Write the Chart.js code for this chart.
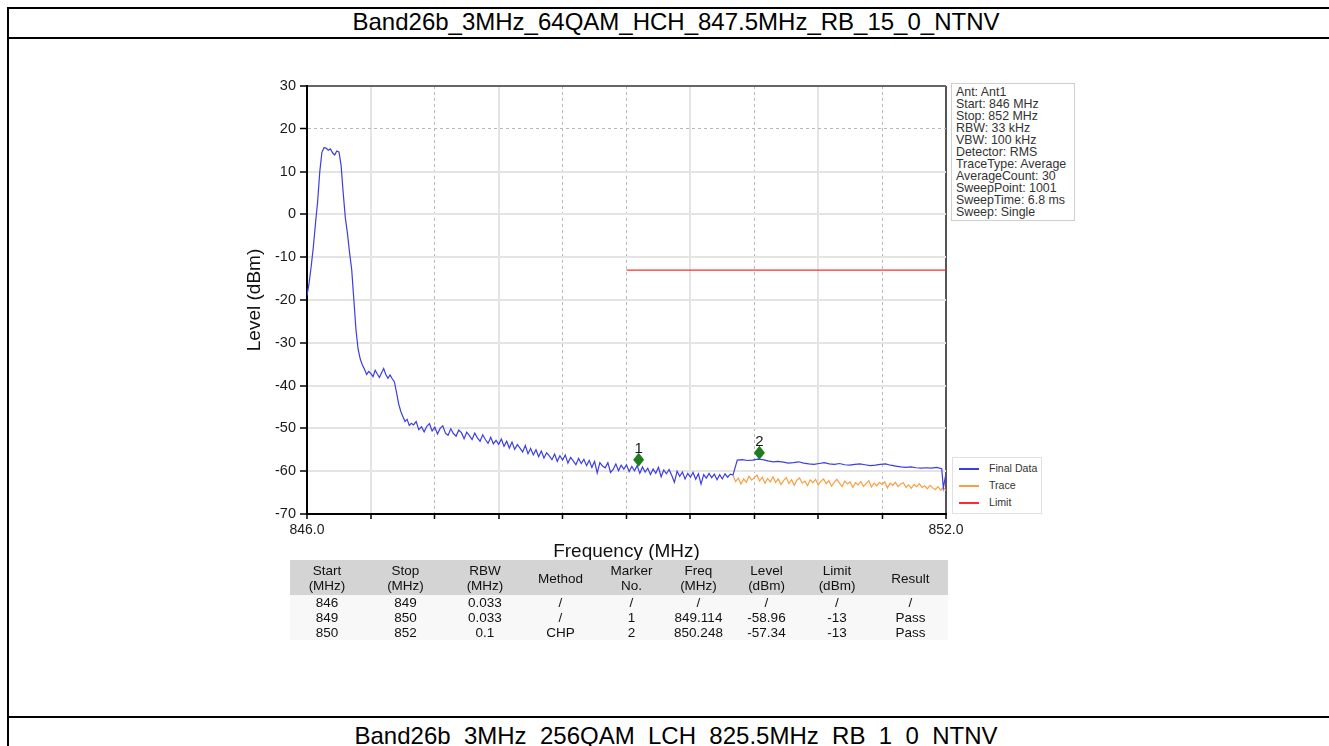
<!DOCTYPE html>
<html>
<head>
<meta charset="utf-8">
<title>Band26b_3MHz_64QAM_HCH_847.5MHz_RB_15_0_NTNV</title>
<script src="https://cdn.jsdelivr.net/npm/chart.js@4/dist/chart.umd.min.js"></script>
<style>
  html, body { margin: 0; padding: 0; background: #fff; }
  body { position: relative; width: 1329px; height: 746px; overflow: hidden; font-family: "Liberation Sans", Arial, sans-serif; color: #000; }
  .rule { position: absolute; background: #000; }
  .caption { position: absolute; left: 8px; width: 1336px; text-align: center; font-size: 24px; line-height: 26px; white-space: nowrap; }
  #plot { position: absolute; left: 220px; top: 60px; }
  #info { position: absolute; left: 951px; top: 83px; width: 115px; padding: 2px 3px 2px 4px; border: 1px solid #cfcfcf; font-size: 12.4px; line-height: 12px; color: #333; background: #fff; white-space: nowrap; }
  #legend { position: absolute; left: 952px; top: 457px; width: 88px; padding: 2px 0; border: 1px solid #e0e0e0; font-size: 10.6px; line-height: 17px; color: #333; background: #fff; }
  #legend div { position: relative; padding-left: 36px; }
  #legend span { position: absolute; left: 6px; top: 8px; width: 20px; height: 1.5px; }
  #results { position: absolute; left: 290px; top: 560px; width: 658px; border-collapse: collapse; table-layout: fixed; font-size: 13.5px; line-height: 15px; color: #111; }
  #results th { background: #d4d4d4; font-weight: normal; padding: 3px 0 2px; }
  #results td { text-align: center; padding: 0; height: 15px; background: #f8f8f8; }
</style>
</head>
<body>
<div class="rule" style="left:7px; top:7px; width:1322px; height:2px"></div>
<div class="rule" style="left:7px; top:37px; width:1322px; height:2px"></div>
<div class="rule" style="left:7px; top:716px; width:1322px; height:2px"></div>
<div class="rule" style="left:7px; top:7px; width:2px; height:739px"></div>
<div class="caption" id="titleTop" style="top:9px"></div>
<div class="caption" id="titleBottom" style="top:723px"></div>

<canvas id="plot" width="860" height="520"></canvas>
<div id="info"></div>
<div id="legend"></div>
<table id="results"></table>

<script>
const topTitle = 'Band26b_3MHz_64QAM_HCH_847.5MHz_RB_15_0_NTNV';
const nextTitle = 'Band26b_3MHz_256QAM_LCH_825.5MHz_RB_1_0_NTNV';

// sweep segments: start freq (MHz), step (MHz), levels (dBm)
const peakStart = 846.00;
const peakStep = 0.02;
const peakLevels = [
  -19.0, -16.0, -12.0, -7.5, -2.0, 3.0, 10.0, 14.5, 15.6, 15.5,
  15.0, 15.3, 14.4, 13.9, 14.8, 14.6, 11.5, 5.0, -0.8, -4.5,
  -9.0, -13.0, -20.0, -27.0, -31.5, -33.8, -35.2, -36.2, -37.4, -36.7,
  -37.2, -37.9, -36.4, -37.3, -38.1, -37.0, -36.0, -37.4, -38.3, -37.5,
  -38.4, -39.1, -41.5, -44.2, -46.0, -47.2, -48.4, -47.9, -49.3, -48.8
];

const floorStart = 847.00;
const floorStep = 0.025;
const floorLevels = [
  -49.2, -48.4, -50.3, -49.6, -50.8, -49.5, -48.9, -50.6,
  -49.7, -51.3, -50.0, -49.4, -51.1, -51.6, -50.1, -51.2,
  -51.8, -50.4, -51.0, -52.4, -50.9, -51.7, -52.6, -51.1,
  -52.2, -53.0, -51.5, -52.6, -53.5, -52.1, -53.6, -52.8,
  -53.7, -52.5, -54.2, -53.0, -54.6, -53.2, -54.9, -53.8,
  -54.6, -55.5, -54.0, -55.9, -54.7, -56.2, -55.0, -56.6,
  -55.3, -56.9, -55.7, -56.4, -57.3, -56.0, -57.7, -56.4,
  -57.4, -56.2, -58.1, -56.8, -57.6, -58.5, -57.0, -58.2,
  -57.2, -58.7, -57.5, -59.1, -57.7, -60.4, -58.0, -58.8,
  -59.2, -58.0, -60.3, -59.6, -58.3, -59.9, -58.6, -59.5,
  -58.5, -60.1, -58.9, -59.9, -58.7, -60.5, -59.0, -60.2,
  -59.3, -60.8, -59.5, -60.5, -59.1, -61.3, -59.7, -60.6,
  -59.6, -61.0, -62.6, -60.0, -61.2, -60.2, -61.8, -60.5,
  -61.4, -60.3, -61.9, -60.6, -63.0, -60.8, -61.6, -60.5,
  -61.5, -60.7, -62.0, -60.8, -61.8, -60.6, -61.4, -60.7,
  -60.9
];

// channel power part of the final data (850 - 852 MHz)
const chpStart = 850.04;
const chpStep = 0.048;
const chpLevels = [
  -57.4, -57.3, -57.5, -57.4, -57.2, -57.3, -57.6, -57.8, -57.7, -57.9,
  -58.1, -58.0, -57.8, -58.1, -58.3, -58.4, -58.2, -58.0, -58.3, -58.4,
  -58.2, -58.5, -58.6, -58.4, -58.3, -58.5, -58.7, -58.6, -58.4, -58.3,
  -58.6, -58.8, -59.0, -59.1, -59.0, -59.2, -59.3, -59.2, -59.3, -59.1,
  -59.4
];
const tailFreqs = [851.975, 852.0];
const tailLevels = [-63.9, -60.5];

// raw trace (850 - 852 MHz)
const traceStart = 850.00;
const traceStep = 0.025;
const traceLevels = [
  -61.0, -62.4, -61.6, -63.0, -61.8, -62.6, -61.2, -62.1,
  -61.5, -60.9, -62.3, -61.4, -62.8, -61.7, -62.5, -61.3,
  -62.6, -61.8, -63.1, -62.2, -61.5, -62.9, -62.0, -63.3,
  -62.1, -61.6, -62.8, -62.3, -63.4, -62.0, -62.7, -61.9,
  -63.2, -62.4, -61.8, -62.9, -62.2, -63.5, -62.6, -61.9,
  -62.8, -63.6, -62.3, -63.0, -62.5, -63.8, -62.7, -63.2,
  -62.4, -63.5, -62.9, -62.2, -63.7, -62.8, -63.4, -62.6,
  -63.1, -62.5, -63.9, -62.8, -63.3, -62.6, -63.6, -63.0,
  -62.7, -63.8, -63.2, -64.0, -63.1, -63.6, -62.9, -63.8,
  -63.4, -64.1, -63.3, -63.9, -64.3, -63.6, -64.4, -63.9,
  -64.5
];

const limitFreqs = [849.0, 852.0];
const limitLevels = [-13, -13];

const markerLabels = ['1', '2'];
const markerFreqs = [849.114, 850.248];
const markerLevels = [-58.96, -57.34];

const xMin = 846.0, xMax = 852.0, xStep = 0.6;
const yMin = -70, yMax = 30, yStep = 10;

const infoLines = [
  'Ant: Ant1', 'Start: 846 MHz', 'Stop: 852 MHz', 'RBW: 33 kHz', 'VBW: 100 kHz',
  'Detector: RMS', 'TraceType: Average', 'AverageCount: 30', 'SweepPoint: 1001',
  'SweepTime: 6.8 ms', 'Sweep: Single'
];

const tableHeader = ['Start<br>(MHz)', 'Stop<br>(MHz)', 'RBW<br>(MHz)', 'Method', 'Marker<br>No.',
  'Freq<br>(MHz)', 'Level<br>(dBm)', 'Limit<br>(dBm)', 'Result'];
const tableRows = [
  ['846', '849', '0.033', '/', '/', '/', '/', '/', '/'],
  ['849', '850', '0.033', '/', '1', '849.114', '-58.96', '-13', 'Pass'],
  ['850', '852', '0.1', 'CHP', '2', '850.248', '-57.34', '-13', 'Pass']
];
const tableCols = [74, 83, 76, 75, 67, 67, 69, 72, 75];

const colors = { final: '#3d3de4', trace: '#f6a043', limit: '#ff2b2b', marker: '#1e7e1e' };

function sweep(start, step, levels) {
  return levels.map((v, i) => ({ x: +(start + step * i).toFixed(4), y: v }));
}

const finalData = []
  .concat(sweep(peakStart, peakStep, peakLevels))
  .concat(sweep(floorStart, floorStep, floorLevels))
  .concat(sweep(chpStart, chpStep, chpLevels))
  .concat(tailFreqs.map((f, i) => ({ x: f, y: tailLevels[i] })));
const traceData = sweep(traceStart, traceStep, traceLevels);
const limitData = limitFreqs.map((f, i) => ({ x: f, y: limitLevels[i] }));

document.getElementById('titleTop').textContent = topTitle;
document.getElementById('titleBottom').textContent = nextTitle;
document.getElementById('info').innerHTML = infoLines.map(t => '<div>' + t + '</div>').join('');
document.getElementById('legend').innerHTML = [
  ['Final Data', colors.final], ['Trace', colors.trace], ['Limit', colors.limit]
].map(([name, c]) => '<div><span style="background:' + c + '"></span>' + name + '</div>').join('');

const table = document.getElementById('results');
table.innerHTML =
  '<colgroup>' + tableCols.map(w => '<col style="width:' + w + 'px">').join('') + '</colgroup>' +
  '<thead><tr>' + tableHeader.map(h => '<th>' + h + '</th>').join('') + '</tr></thead>' +
  '<tbody>' + tableRows.map(r => '<tr>' + r.map(c => '<td>' + c + '</td>').join('') + '</tr>').join('') + '</tbody>';

const FONT = '"Liberation Sans", Arial, sans-serif';
const xDashed = [2, 4, 5, 7, 9];
const yDashed = [9];

const markerPlugin = {
  id: 'markers',
  afterDatasetsDraw(chart) {
    const { ctx, scales: { x, y } } = chart;
    ctx.save();
    markerFreqs.forEach((f, i) => {
      const px = x.getPixelForValue(f);
      const py = y.getPixelForValue(markerLevels[i]);
      ctx.beginPath();
      ctx.moveTo(px, py);
      ctx.lineTo(px + 5.5, py - 7);
      ctx.lineTo(px, py - 14);
      ctx.lineTo(px - 5.5, py - 7);
      ctx.closePath();
      ctx.fillStyle = colors.marker;
      ctx.fill();
      ctx.fillStyle = '#1a1a1a';
      ctx.font = '15px ' + FONT;
      ctx.textAlign = 'center';
      ctx.fillText(markerLabels[i], px, py - 14);
    });
    ctx.restore();
  }
};

new Chart(document.getElementById('plot'), {
  type: 'line',
  data: {
    datasets: [
      { label: 'Final Data', data: finalData, borderColor: colors.final, borderWidth: 1.2 },
      { label: 'Trace', data: traceData, borderColor: colors.trace, borderWidth: 1.2 },
      { label: 'Limit', data: limitData, borderColor: colors.limit, borderWidth: 1.2 }
    ]
  },
  options: {
    responsive: false,
    animation: false,
    devicePixelRatio: 1,
    parsing: false,
    elements: { point: { radius: 0 }, line: { tension: 0 } },
    layout: { padding: { top: 26, right: 134, bottom: 6, left: 0 } },
    plugins: { legend: { display: false }, tooltip: { enabled: false } },
    scales: {
      x: {
        type: 'linear',
        min: xMin,
        max: xMax,
        afterFit(scale) { scale.height = 60; },
        ticks: {
          stepSize: xStep,
          autoSkip: false,
          maxRotation: 0,
          padding: 3,
          color: '#1a1a1a',
          font: { family: FONT, size: 14 },
          callback: (v, i, ticks) => (i === 0 || i === ticks.length - 1) ? Number(v).toFixed(1) : ''
        },
        grid: {
          color: c => c.index === 10 ? '#555' : (xDashed.includes(c.index) ? '#b8b8b8' : '#e4e4e4'),
          lineWidth: c => c.index === 10 ? 2 : (xDashed.includes(c.index) ? 1 : 2),
          tickColor: '#000',
          tickLength: 5,
          tickWidth: 1.5
        },
        border: { color: '#000', width: 2, dash: c => xDashed.includes(c.index) ? [3, 3] : [] },
        title: {
          display: true,
          text: 'Frequency (MHz)',
          color: '#111',
          font: { family: FONT, size: 19 },
          padding: { top: 0, bottom: 11 }
        }
      },
      y: {
        min: yMin,
        max: yMax,
        afterFit(scale) { scale.width = 87; },
        ticks: {
          stepSize: yStep,
          padding: 4,
          color: '#1a1a1a',
          font: { family: FONT, size: 14.5 }
        },
        grid: {
          color: c => c.index === 10 ? '#666' : (yDashed.includes(c.index) ? '#b8b8b8' : '#e4e4e4'),
          lineWidth: c => c.index === 10 ? 2 : (yDashed.includes(c.index) ? 1 : 2),
          tickColor: '#000',
          tickLength: 7,
          tickWidth: 1.5
        },
        border: { color: '#000', width: 2, dash: c => yDashed.includes(c.index) ? [3, 3] : [] },
        title: {
          display: true,
          text: 'Level (dBm)',
          color: '#111',
          font: { family: FONT, size: 19 },
          padding: { top: 23, bottom: 0 }
        }
      }
    }
  },
  plugins: [markerPlugin]
});
</script>
</body>
</html>
